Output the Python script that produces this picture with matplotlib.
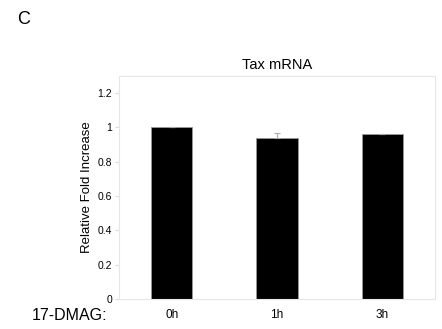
import matplotlib

matplotlib.use("agg")

import matplotlib.pyplot as plt

plt.rcParams["font.family"] = ["Liberation Sans", "DejaVu Sans"]

# values
timepoints = ["0h", "1h", "3h"]
fold_increase = [1.0, 0.94, 0.96]
fold_err = [0.0, 0.025, 0.004]
yticks = [0, 0.2, 0.4, 0.6, 0.8, 1, 1.2]
ytick_labels = ["0", "0.2", "0.4", "0.6", "0.8", "1", "1.2"]

fig = plt.figure(figsize=(4.42, 3.29), dpi=100)
ax = fig.add_axes([119 / 442, 1 - 299 / 329, 316 / 442, 223 / 329])

x = range(len(timepoints))
# only the upper half of the error bar shows above the black bars
ax.bar(x, fold_increase, width=0.39, color="black", edgecolor="#999999",
       linewidth=0.6, yerr=[[0] * len(fold_err), fold_err],
       error_kw=dict(ecolor="#aaaaaa", elinewidth=0.8, capsize=2, capthick=0.8))

ax.set_xlim(-0.5, 2.5)
ax.set_ylim(0, 1.3)
ax.set_yticks(yticks)
ax.set_yticklabels(ytick_labels, fontsize=7.5)
ax.set_xticks(list(x))
ax.set_xticklabels(timepoints, fontsize=8.5)
ax.tick_params(axis="y", length=3, color="#dddddd", pad=2)
ax.tick_params(axis="x", length=0, pad=7)
for spine in ax.spines.values():
    spine.set_color("#e6e6e6")
    spine.set_linewidth(0.8)

ax.set_ylabel("Relative Fold Increase", fontsize=9.5, labelpad=3)
ax.set_title("Tax mRNA", fontsize=10.5, pad=5)

fig.text(17 / 442, 1 - 20 / 329, "C", fontsize=13, va="center", ha="left")
fig.text(32 / 442, 1 - 315 / 329, "17-DMAG:", fontsize=11.5, va="center", ha="left")

fig.savefig("out.png", dpi=100)
